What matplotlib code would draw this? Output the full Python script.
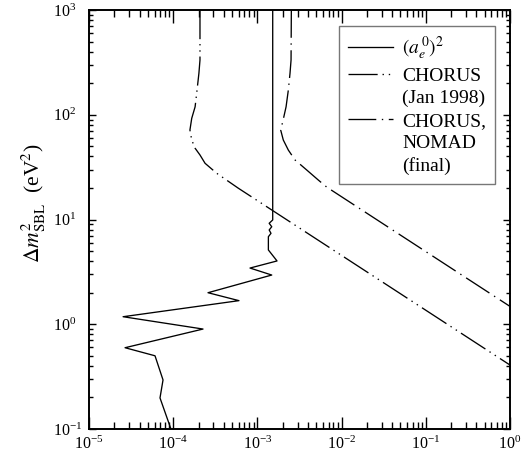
import matplotlib
matplotlib.use("Agg")
import matplotlib.pyplot as plt
from matplotlib.lines import Line2D

plt.rcParams['font.family'] = ['Liberation Serif', 'DejaVu Serif']
plt.rcParams['mathtext.fontset'] = 'stix'
plt.rcParams['lines.scale_dashes'] = False

# (a_e^0)^2 bound
ae_x = [1.52e-3, 1.52e-3, 1.38e-3, 1.48e-3, 1.38e-3, 1.45e-3, 1.35e-3, 1.35e-3,
        1.71e-3, 8.17e-4, 1.48e-3, 2.59e-4, 6.04e-4, 2.54e-5, 2.26e-4, 2.68e-5,
        6.08e-5, 7.57e-5, 6.97e-5, 9.4e-5]
ae_y = [1000, 9.9, 9.2, 8.53, 7.94, 7.38, 6.85, 5.12,
        4.02, 3.44, 2.95, 2.0, 1.68, 1.18, 0.90, 0.597,
        0.50, 0.294, 0.198, 0.1]

# CHORUS (Jan 1998)
ch98_x = [2.08e-4, 2.08e-4, 2.02e-4, 1.90e-4, 1.82e-4, 1.66e-4, 1.58e-4, 1.66e-4,
          1.82e-4, 2.08e-4, 2.39e-4, 3.29e-4, 5.93e-4, 1.0]
ch98_y = [1000, 333, 249, 160, 119, 92.5, 71.5, 57.4,
          47.9, 41.3, 34.4, 27.6, 19.9, 0.408]

# CHORUS, NOMAD (final)
chn_x = [2.53e-3, 2.51e-3, 2.44e-3, 2.33e-3, 2.19e-3, 2.0e-3, 1.89e-3, 2.03e-3,
         2.33e-3, 2.80e-3, 3.85e-3, 5.29e-3, 6.65e-3, 1.0]
chn_y = [1000, 333, 249, 172, 119, 85.9, 71.5, 57.4,
         46.0, 37.0, 29.7, 23.8, 20.4, 1.48]

labels = [r'$(a_e^{\,0})^2$', 'CHORUS', '(Jan 1998)', 'CHORUS,', 'NOMAD', '(final)']

dash_dotdot = (0, (21, 3.5, 1, 3.5, 1, 3.5))
dash_dot = (0, (20, 4, 1, 4))

fig = plt.figure(figsize=(5.26, 4.61), dpi=100)
ax = fig.add_axes([89 / 526, 32 / 461, 421 / 526, 419 / 461])

lw = 0.95
l1, = ax.plot(ae_x, ae_y, color='black', lw=lw)
l2, = ax.plot(ch98_x, ch98_y, color='black', lw=lw, linestyle=dash_dotdot)
l3, = ax.plot(chn_x, chn_y, color='black', lw=lw, linestyle=dash_dot)

ax.set_xscale('log')
ax.set_yscale('log')
ax.set_xlim(1e-5, 1)
ax.set_ylim(0.1, 1000)

ax.set_ylabel(r'$\Delta m^2_{\rm SBL}$  (eV$^2$)', fontsize=15.5)
ax.yaxis.set_label_coords(-0.097, 0.538)

for s in ax.spines.values():
    s.set_linewidth(1.4)

ax.tick_params(which='both', direction='in', top=True, right=True,
               width=1.0, labelsize=11.5)
ax.tick_params(axis='x', which='major', length=9, pad=5)
ax.tick_params(axis='x', which='minor', length=5)
ax.tick_params(axis='y', which='major', length=5, pad=26)
ax.tick_params(axis='y', which='minor', length=3)
for t in ax.get_yticklabels():
    t.set_horizontalalignment('left')

blank = Line2D([], [], linestyle='none')
leg = ax.legend([l1, l2, blank, l3, blank, blank], labels,
                loc='upper right', bbox_to_anchor=(406 / 421, 1 - 16 / 419),
                borderaxespad=0, fontsize=14, frameon=True, fancybox=False,
                handlelength=2.3, handletextpad=0.5, labelspacing=0.25,
                borderpad=0.45)
leg.get_frame().set_edgecolor('#555555')
leg.get_frame().set_linewidth(1.0)

fig.savefig('out.png', dpi=100)
